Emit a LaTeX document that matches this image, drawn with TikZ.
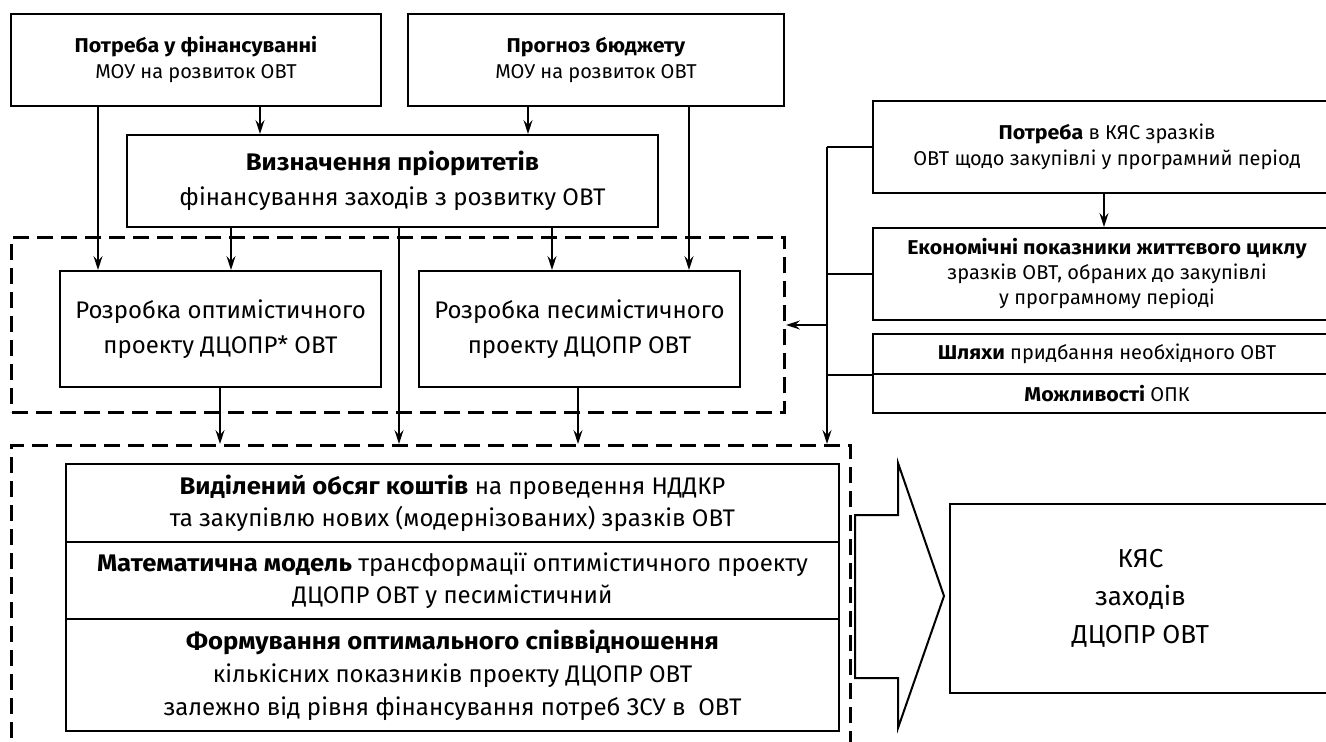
\documentclass[tikz,border=0pt]{standalone}
\usepackage{fontspec}
\setmainfont{Fira Sans}[BoldFeatures={FakeStretch=1.07}]
\usetikzlibrary{arrows.meta}
\tikzset{
  box/.style={draw, line width=1pt, inner sep=0pt, align=center, anchor=north west},
  grp/.style={draw, line width=1.5pt, dash pattern=on 8pt off 4pt, inner sep=0pt, anchor=north west},
  arr/.style={-{Stealth[length=7pt,width=4.5pt,inset=2.5pt]}, line width=0.7pt},
  bus/.style={line width=1pt},
  small/.style={font=\fontsize{10}{13}\selectfont},
  mid/.style={font=\fontsize{12}{17.5}\selectfont},
  big/.style={font=\fontsize{13}{19}\selectfont}
}

\begin{document}
\begin{tikzpicture}[x=0.5pt, y=-0.5pt]
  \useasboundingbox (0,0) rectangle (1326,742);

  % Gruppen
  \node[grp, minimum width=386.5pt, minimum height=87.5pt] (dup) at (10,236) {};
  \node[grp, minimum width=419.5pt, minimum height=163pt] (dlow) at (10,444) {};

  % obere Kaesten
  \node[box, small, minimum width=185pt, minimum height=46pt] (potr) at (10,13)
    {\textbf{Потреба у фінансуванні}\\МОУ на розвиток ОВТ};
  \node[box, small, minimum width=188pt, minimum height=46pt] (prog) at (407,13)
    {\textbf{Прогноз бюджету}\\МОУ на розвиток ОВТ};
  \node[box, mid, minimum width=265.5pt, minimum height=46pt] (viz) at (126,134)
    {\textbf{Визначення пріоритетів}\\фінансування заходів з розвитку ОВТ};
  \node[box, mid, minimum width=160.5pt, minimum height=58pt] (opt) at (59,270)
    {Розробка оптимістичного\\проекту ДЦОПР* ОВТ};
  \node[box, mid, minimum width=160.5pt, minimum height=58pt] (pes) at (418,270)
    {Розробка песимістичного\\проекту ДЦОПР ОВТ};

  % rechte Kaesten
  \node[box, small, minimum width=234pt, minimum height=46pt] (need) at (872,100)
    {\textbf{Потреба} в КЯС зразків\\ОВТ щодо закупівлі у програмний період};
  \node[box, small, font=\fontsize{10}{12.5}\selectfont, minimum width=234pt, minimum height=46pt] (ekon) at (872,227)
    {\textbf{Економічні показники життєвого циклу}\\зразків ОВТ, обраних до закупівлі\\у програмному періоді};
  \node[box, small, minimum width=234pt, minimum height=20pt] (ways) at (872,333)
    {\textbf{Шляхи} придбання необхідного ОВТ};
  \node[box, small, minimum width=234pt, minimum height=19.5pt] (poss) at (872,373)
    {\textbf{Можливості} ОПК};

  % unterer Block
  \node[box, font=\fontsize{12}{16}\selectfont, minimum width=386.5pt, minimum height=39pt] (s1) at (65,463)
    {\textbf{Виділений обсяг коштів} на проведення НДДКР\\та закупівлю нових (модернізованих) зразків ОВТ};
  \node[box, font=\fontsize{12}{16}\selectfont, minimum width=386.5pt, minimum height=38.5pt] (s2) at (65,541)
    {\textbf{Математична модель} трансформації оптимістичного проекту\\ДЦОПР ОВТ у песимістичний};
  \node[box, font=\fontsize{12}{16.5}\selectfont, minimum width=386.5pt, minimum height=56pt] (s3) at (65,618)
    {\textbf{Формування оптимального співвідношення}\\кількісних показників проекту ДЦОПР ОВТ\\залежно від рівня фінансування потреб ЗСУ в~~ОВТ};

  % Ergebnis
  \node[box, big, minimum width=190.5pt, minimum height=94.5pt] (kyas) at (949,503)
    {КЯС\\заходів\\ДЦОПР ОВТ};
  \draw[line width=1pt] (855,515) -- (898,515) -- (898,463) -- (944,596)
    -- (898,728) -- (898,678) -- (855,678) -- cycle;

  % Pfeile oben
  \coordinate (xa) at (98,0);
  \coordinate (xb) at (260,0);
  \coordinate (xc) at (528,0);
  \coordinate (xd) at (689,0);
  \coordinate (xe) at (231,0);
  \coordinate (xf) at (552,0);
  \coordinate (xg) at (399,0);
  \coordinate (xh) at (220,0);
  \coordinate (xi) at (578,0);
  \coordinate (xj) at (1104,0);
  \draw[arr] (potr.south -| xa) -- (opt.north -| xa);
  \draw[arr] (potr.south -| xb) -- (viz.north -| xb);
  \draw[arr] (prog.south -| xc) -- (viz.north -| xc);
  \draw[arr] (prog.south -| xd) -- (pes.north -| xd);
  \draw[arr] (viz.south -| xe) -- (opt.north -| xe);
  \draw[arr] (viz.south -| xf) -- (pes.north -| xf);
  \draw[arr] (viz.south -| xg) -- (dlow.north -| xg);
  \draw[arr] (opt.south -| xh) -- (dlow.north -| xh);
  \draw[arr] (pes.south -| xi) -- (dlow.north -| xi);
  \draw[arr] (need.south -| xj) -- (ekon.north -| xj);

  % Sammelschiene rechts
  \coordinate (bus) at (827,0);
  \draw[bus] (need.west) -- (need.west -| bus);
  \draw[bus] (ekon.west) -- (ekon.west -| bus);
  \draw[bus] (ways.south west) -- (ways.south west -| bus);
  \draw[arr, line width=1pt] (need.west -| bus) -- (dlow.north -| bus);
  \draw[arr] (dup.east -| bus) -- (dup.east);
\end{tikzpicture}
\end{document}
